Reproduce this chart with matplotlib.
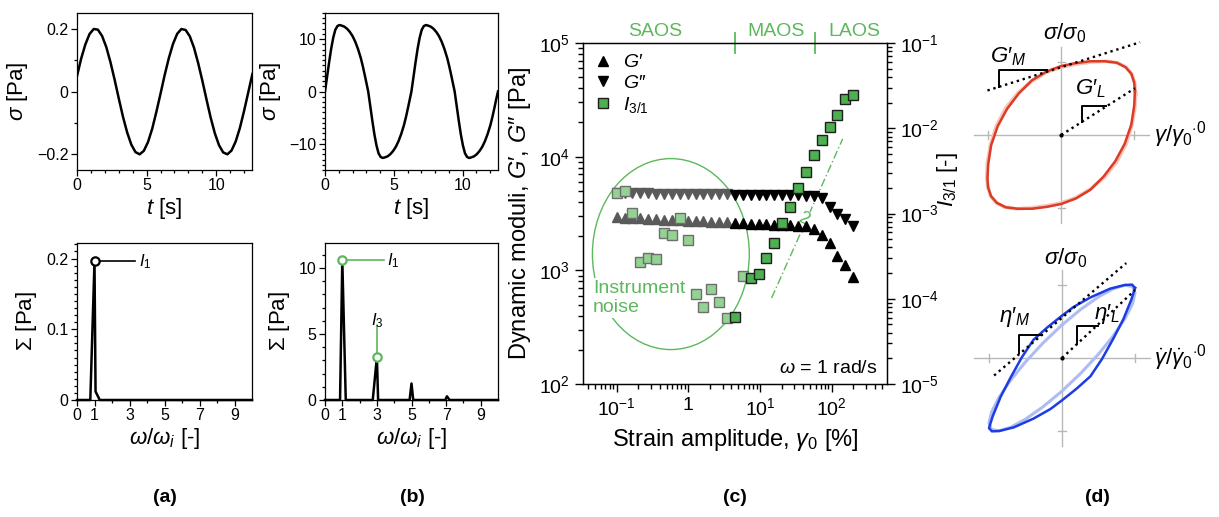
import numpy as np
import matplotlib
matplotlib.use("Agg")
import matplotlib.pyplot as plt
from matplotlib.patches import Ellipse
from matplotlib.ticker import MultipleLocator, FixedLocator, FuncFormatter, LogLocator, NullFormatter

plt.rcParams.update({
    "font.family": ["Liberation Sans", "DejaVu Sans"],
    "mathtext.fontset": "custom",
    "mathtext.rm": "Liberation Sans",
    "mathtext.it": "Liberation Sans:italic",
    "mathtext.bf": "Liberation Sans:bold",
    "axes.linewidth": 0.9,
})

# ---- (a) linear response: stress signal and its spectrum ----
T_A = [0.0, 0.3, 0.6, 0.9, 1.2, 1.5, 1.8, 2.1, 2.4, 2.7, 3.0, 3.3, 3.6, 3.9, 4.2,
       4.5, 4.8, 5.1, 5.4, 5.7, 6.0, 6.3, 6.6, 6.9, 7.2, 7.5, 7.8, 8.1, 8.4, 8.7,
       9.0, 9.3, 9.6, 9.9, 10.2, 10.5, 10.8, 11.1, 11.4, 11.7, 12.0, 12.3, 12.6]
SIG_A = [0.049, 0.105, 0.150, 0.183, 0.199, 0.197, 0.177, 0.142, 0.094, 0.038,
         -0.022, -0.080, -0.130, -0.169, -0.193, -0.200, -0.189, -0.161, -0.119, -0.065,
         -0.007, 0.053, 0.107, 0.152, 0.184, 0.199, 0.196, 0.176, 0.140, 0.091,
         0.035, -0.025, -0.083, -0.133, -0.171, -0.194, -0.200, -0.188, -0.159, -0.116,
         -0.062, -0.003, 0.056]
FREQ_A = [0, 0.76, 1.0, 1.06, 1.3, 10]
AMP_A = [0, 0, 0.196, 0.012, 0, 0]
I1_A = 0.196

# ---- (b) nonlinear response ----
T_B = [0.0, 0.15, 0.3, 0.45, 0.6, 0.75, 0.9, 1.05, 1.2, 1.4, 1.6, 1.8, 2.0, 2.2, 2.4, 2.6, 2.75, 2.9, 3.02,
       3.14, 3.29, 3.44, 3.59, 3.74, 3.89, 4.04, 4.19, 4.34, 4.54, 4.74, 4.94, 5.14, 5.34, 5.54, 5.74, 5.89, 6.04, 6.16,
       6.28, 6.43, 6.58, 6.73, 6.88, 7.03, 7.18, 7.33, 7.48, 7.68, 7.88, 8.08, 8.28, 8.48, 8.68, 8.88, 9.03, 9.18, 9.30,
       9.42, 9.57, 9.72, 9.87, 10.02, 10.17, 10.32, 10.47, 10.62, 10.82, 11.02, 11.22, 11.42, 11.62, 11.82, 12.02, 12.17,
       12.32, 12.44, 12.57]
SIG_B = [0.0, 2.8, 5.6, 8.2, 10.3, 11.8, 12.5, 12.7, 12.6, 12.4, 12.0, 11.4, 10.6, 9.5, 8.1, 6.4, 4.8, 3.0, 1.5,
         0.0, -2.8, -5.6, -8.2, -10.3, -11.8, -12.5, -12.7, -12.6, -12.4, -12.0, -11.4, -10.6, -9.5, -8.1, -6.4, -4.8, -3.0, -1.5,
         0.0, 2.8, 5.6, 8.2, 10.3, 11.8, 12.5, 12.7, 12.6, 12.4, 12.0, 11.4, 10.6, 9.5, 8.1, 6.4, 4.8, 3.0, 1.5,
         0.0, -2.8, -5.6, -8.2, -10.3, -11.8, -12.5, -12.7, -12.6, -12.4, -12.0, -11.4, -10.6, -9.5, -8.1, -6.4, -4.8,
         -3.0, -1.5, 0.0]
FREQ_B = [0, 0.87, 1.0, 1.2, 2.76, 3.0, 3.07, 4.89, 5.0, 5.1, 6.95, 7.05, 7.2, 10]
AMP_B = [0, 0, 10.6, 0, 0, 3.25, 0, 0, 1.25, 0, 0, 0.28, 0, 0]
I1_B, I3_B = 10.6, 3.25

# ---- (c) strain amplitude sweep ----
GAMMA = [0.100, 0.129, 0.166, 0.214, 0.275, 0.355, 0.457, 0.589, 0.759, 0.977, 1.26,
         1.62, 2.09, 2.69, 3.47, 4.47, 5.75, 7.41, 9.55, 12.3, 15.8, 20.4, 26.3, 33.9,
         43.7, 56.2, 72.4, 93.3, 120, 155, 200]
G_STORAGE = [2920, 2900, 2880, 2860, 2840, 2820, 2800, 2780, 2760, 2740, 2720, 2700,
             2680, 2660, 2640, 2620, 2600, 2580, 2560, 2540, 2520, 2500, 2480, 2470,
             2450, 2310, 2040, 1740, 1340, 1110, 870]
G_LOSS = [4790, 4780, 4770, 4760, 4750, 4740, 4730, 4720, 4710, 4700, 4690, 4680,
          4670, 4660, 4650, 4640, 4630, 4620, 4610, 4600, 4590, 4580, 4570, 4560,
          4540, 4500, 4330, 3640, 3120, 2820, 2470]
I31 = [1.74e-3, 1.84e-3, 1.01e-3, 2.70e-4, 3.01e-4, 2.93e-4, 5.90e-4, 5.60e-4, 8.85e-4,
       4.88e-4, 1.14e-4, 8.0e-5, 1.30e-4, 9.16e-5, 5.95e-5, 6.11e-5, 1.85e-4, 1.75e-4,
       1.95e-4, 3.01e-4, 4.51e-4, 7.74e-4, 1.19e-3, 1.99e-3, 3.07e-3, 4.85e-3, 7.28e-3,
       1.04e-2, 1.43e-2, 2.20e-2, 2.46e-2]
IN_NOISE = [True] * 15 + [False, True] + [False] * 14
REGION_EDGES = [4.5, 58]
REGION_NAMES = ["SAOS", "MAOS", "LAOS"]
REGION_AT = [0.35, 16.5, 210]
SLOPE_GAMMA = [14.5, 142]
SLOPE_I = [1.02e-4, 7.5e-3]

# ---- (d) Lissajous curves (normalised) ----
ELASTIC_X = [1.01, 1.00, 0.96, 0.88, 0.76, 0.60, 0.40, 0.20, 0.00, -0.20, -0.40, -0.58, -0.74,
             -0.87, -0.96, -1.00, -1.01, -1.00, -0.96, -0.88, -0.76, -0.60, -0.40, -0.20, 0.00,
             0.20, 0.40, 0.58, 0.74, 0.87, 0.96, 1.00, 1.01]
ELASTIC_Y = [0.60, 0.72, 0.84, 0.93, 0.99, 1.01, 1.01, 0.985, 0.945, 0.87, 0.75, 0.57, 0.36,
             0.12, -0.14, -0.40, -0.60, -0.72, -0.84, -0.93, -0.99, -1.01, -1.01, -0.985, -0.945,
             -0.87, -0.75, -0.57, -0.36, -0.12, 0.14, 0.40, 0.60]
ELASTIC1_X = [1.02, 1.01, 0.97, 0.89, 0.77, 0.61, 0.41, 0.20, 0.00, -0.20, -0.40, -0.59, -0.76,
              -0.89, -0.97, -1.01, -1.02, -1.01, -0.97, -0.89, -0.77, -0.61, -0.41, -0.20, 0.00,
              0.20, 0.40, 0.59, 0.76, 0.89, 0.97, 1.01, 1.02]
ELASTIC1_Y = [0.56, 0.70, 0.83, 0.93, 0.99, 1.01, 1.00, 0.97, 0.93, 0.86, 0.74, 0.58, 0.37,
              0.12, -0.14, -0.38, -0.56, -0.70, -0.83, -0.93, -0.99, -1.01, -1.00, -0.97, -0.93,
              -0.86, -0.74, -0.58, -0.37, -0.12, 0.14, 0.38, 0.56]
VISC_X = [1.00, 0.96, 0.86, 0.66, 0.39, 0.16, 0.00, -0.20, -0.39, -0.55, -0.70, -0.84, -0.95,
          -1.00, -0.96, -0.86, -0.66, -0.39, -0.16, 0.00, 0.20, 0.39, 0.55, 0.70, 0.84, 0.95, 1.00]
VISC_Y = [0.96, 1.005, 1.00, 0.95, 0.83, 0.70, 0.58, 0.42, 0.25, 0.01, -0.26, -0.53, -0.80,
          -0.96, -1.005, -1.00, -0.95, -0.83, -0.70, -0.58, -0.42, -0.25, -0.01, 0.26, 0.53, 0.80, 0.96]
VISC1_X = [0, 0.259, 0.5, 0.707, 0.866, 0.966, 1, 0.966, 0.866, 0.707, 0.5, 0.259, 0,
           -0.259, -0.5, -0.707, -0.866, -0.966, -1, -0.966, -0.866, -0.707, -0.5, -0.259, 0]
VISC1_Y = [0.453, 0.668, 0.838, 0.951, 0.999, 0.978, 0.892, 0.744, 0.545, 0.309, 0.053, -0.207,
           -0.453, -0.668, -0.838, -0.951, -0.999, -0.978, -0.892, -0.744, -0.545, -0.309,
           -0.053, 0.207, 0.453]

GREEN = "#5cb85c"
SQ_DARK = "#4daf4f"
SQ_LIGHT = "#94d294"
GRAY_TRI = "#5a5a5a"
RED, RED_L = "#de3b26", "#f6c4ba"
BLUE, BLUE_L = "#1c3ce6", "#aebcf3"

W, H = 1219, 517
fig = plt.figure(figsize=(W / 100, H / 100), dpi=100)


def add_px(x0, y0, x1, y1):
    return fig.add_axes([x0 / W, 1 - y1 / H, (x1 - x0) / W, (y1 - y0) / H])


num = FuncFormatter(lambda v, p: f"{v:g}".replace("-", "\u2212"))


def style_small(ax):
    ax.tick_params(which="both", direction="out", labelsize=11.5, width=0.9, pad=2)
    ax.tick_params(which="major", length=4)
    ax.tick_params(which="minor", length=2)


def wave_panel(ax, t, s, lim, major, minor):
    ax.plot(t, s, color="k", lw=1.8)
    ax.set_xlim(0, 12.57)
    ax.set_ylim(-lim, lim)
    ax.xaxis.set_major_locator(MultipleLocator(5))
    ax.xaxis.set_minor_locator(MultipleLocator(1))
    ax.yaxis.set_major_locator(MultipleLocator(major))
    ax.yaxis.set_minor_locator(MultipleLocator(minor))
    ax.yaxis.set_major_formatter(num)
    ax.set_xlabel("$t$ [s]", fontsize=16, labelpad=2)
    ax.set_ylabel(r"$\sigma$ [Pa]", fontsize=16, labelpad=5)
    style_small(ax)


def spec_panel(ax, f, a, ymax, major, minor):
    ax.plot(f, a, color="k", lw=1.8, clip_on=False)
    ax.set_xlim(0, 10)
    ax.set_ylim(0, ymax)
    ax.xaxis.set_major_locator(FixedLocator([0, 1, 3, 5, 7, 9]))
    ax.xaxis.set_minor_locator(FixedLocator([2, 4, 6, 8]))
    ax.yaxis.set_major_locator(MultipleLocator(major))
    ax.yaxis.set_minor_locator(MultipleLocator(minor))
    ax.yaxis.set_major_formatter(num)
    ax.set_xlabel(r"$\omega/\omega_i$ [-]", fontsize=16, labelpad=2)
    ax.set_ylabel(r"$\Sigma$ [Pa]", fontsize=16, labelpad=5)
    style_small(ax)


# (a)
ax = add_px(77, 13, 252, 170)
wave_panel(ax, T_A, SIG_A, 0.25, 0.2, 0.1)
ax = add_px(77, 243, 252, 400)
spec_panel(ax, FREQ_A, AMP_A, 0.222, 0.1, 0.01)
ax.plot([1, 3.3], [I1_A, I1_A], color="k", lw=1.2)
ax.plot([1], [I1_A], "o", ms=6, mfc="white", mec="k", mew=1.6)
ax.text(3.55, I1_A, "$I_1$", fontsize=12, va="center")

# (b)
ax = add_px(325, 13, 498, 170)
wave_panel(ax, T_B, SIG_B, 15, 10, 1)
ax = add_px(325, 243, 498, 400)
spec_panel(ax, FREQ_B, AMP_B, 11.9, 5, 1)
ax.plot([1, 3.4], [I1_B, I1_B], color=GREEN, lw=1.2)
ax.plot([3, 3], [I3_B, 5.6], color=GREEN, lw=1.2)
ax.plot([1, 3], [I1_B, I3_B], "o", ms=6, mfc="white", mec=GREEN, mew=1.6, ls="none")
ax.text(3.6, I1_B, "$I_1$", fontsize=12, va="center")
ax.text(3.0, 6.0, "$I_3$", fontsize=12, va="center", ha="center")

# (c)
g = np.array(GAMMA)
gp = np.array(G_STORAGE)
gpp = np.array(G_LOSS)
i31 = np.array(I31)
noise = np.array(IN_NOISE)
saos = g < 4

ax = add_px(583, 43, 887, 384)
axr = ax.twinx()
ax.set_xscale("log")
ax.set_yscale("log")
axr.set_yscale("log")

ax.plot(g[saos], gp[saos], "^", color=GRAY_TRI, ms=6.5, ls="none", zorder=3)
ax.plot(g[saos], gpp[saos], "v", color=GRAY_TRI, ms=6.5, ls="none", zorder=3)
h_gp, = ax.plot(g[~saos], gp[~saos], "^", color="k", ms=6.5, ls="none", zorder=3)
h_gpp, = ax.plot(g[~saos], gpp[~saos], "v", color="k", ms=6.5, ls="none", zorder=3)

axr.plot(g[noise], i31[noise], "s", mfc=SQ_LIGHT, mec="#6e6e6e", ms=7.5, mew=1.0, ls="none", zorder=3)
h_i, = axr.plot(g[~noise], i31[~noise], "s", mfc=SQ_DARK, mec="#1e1e1e", ms=7.5, mew=1.0, ls="none", zorder=3)

ax.plot(SLOPE_GAMMA, SLOPE_I, color=GREEN, lw=1.0, ls=(0, (6, 2, 1, 2)), transform=axr.transData, zorder=2)
ax.text(40, 8.6e-4, "2", color=GREEN, fontsize=13, ha="center", va="center", rotation=-25,
        transform=axr.transData, zorder=2.5,
        bbox=dict(boxstyle="square,pad=0.05", fc="white", ec="none"))

ax.add_patch(Ellipse((0.289, 0.381), 0.516, 0.56, transform=ax.transAxes,
                     fill=False, ec=GREEN, lw=1.0, zorder=1))
ax.text(0.033, 0.251, "Instrument\nnoise", transform=ax.transAxes, color=GREEN,
        fontsize=14, ha="left", va="center", linespacing=1.15, zorder=2,
        bbox=dict(boxstyle="square,pad=0.1", fc="white", ec="none"))

ax.set_xlim(0.034, 590)
ax.set_ylim(1e2, 1e5)
axr.set_ylim(1e-5, 1e-1)

xt = ax.get_xaxis_transform()
for e in REGION_EDGES:
    ax.plot([e, e], [0.97, 1.03], color=GREEN, lw=1.3, transform=xt, clip_on=False)
for name, x in zip(REGION_NAMES, REGION_AT):
    ax.text(x, 1.035, name, color=GREEN, fontsize=14, ha="center", va="center", transform=xt)

ax.text(0.97, 0.046, r"$\omega$ = 1 rad/s", transform=ax.transAxes, fontsize=14,
        ha="right", va="center")

ax.xaxis.set_major_locator(FixedLocator([0.1, 1, 10, 100]))
ax.set_xticklabels(["$10^{-1}$", "1", "$10^{1}$", "$10^{2}$"])
ax.xaxis.set_minor_locator(LogLocator(base=10, subs=np.arange(2, 10) * 1.0, numticks=20))
ax.xaxis.set_minor_formatter(NullFormatter())
for a in (ax, axr):
    a.tick_params(which="both", direction="out", labelsize=14, width=1.0)
    a.tick_params(which="major", length=6)
    a.tick_params(which="minor", length=3.5)
ax.tick_params(axis="y", right=False)
ax.set_xlabel(r"Strain amplitude, $\gamma_{\mathit{0}}$ [%]", fontsize=17, labelpad=6)
ax.set_ylabel(r"Dynamic moduli, $G\prime$, $G\prime\prime$ [Pa]", fontsize=17, labelpad=4)
axr.set_ylabel("$I_{3/1}$ [-]", fontsize=16, rotation=90, va="center", ha="center")
axr.yaxis.set_label_coords(1.2, 0.6)

axr.legend([h_gp, h_gpp, h_i], [r"$G\prime$", r"$G\prime\prime$", "$I_{3/1}$"], loc="upper left",
           frameon=False, fontsize=14, handlelength=1.0, handletextpad=0.5,
           labelspacing=0.15, borderaxespad=0.15)


# (d)
def loop_frame(ax, ylim):
    ax.set_xlim(-1.4, 2.1)
    ax.set_ylim(*ylim)
    ax.axis("off")
    ax.plot([-1.2, 1.2], [0, 0], color="#b8b8b8", lw=1.0, zorder=1)
    ax.plot([0, 0], [-1.2, 1.2], color="#b8b8b8", lw=1.0, zorder=1)
    for v in (-1, 1):
        ax.plot([v, v], [-0.05, 0.05], color="#b8b8b8", lw=1.0, zorder=1)
        ax.plot([-0.05, 0.05], [v, v], color="#b8b8b8", lw=1.0, zorder=1)
    ax.plot([0], [0], "o", color="k", ms=2, zorder=4)


DOT = dict(color="k", lw=1.7, ls=(0, (1, 1.6)), zorder=4)
STEP = dict(color="k", lw=1.4, zorder=4)

ax = add_px(959, 18.2, 1214.5, 233.55)
loop_frame(ax, (-1.35, 1.6))
ax.plot(ELASTIC1_X, ELASTIC1_Y, color=RED_L, lw=2.6, zorder=2)
ax.plot(ELASTIC_X, ELASTIC_Y, color=RED, lw=1.8, zorder=3)
ax.plot([-1.01, 1.08], [0.61, 1.27], **DOT)
ax.plot([-0.855, -0.855, -0.195], [0.66, 0.886, 0.886], **STEP)
ax.plot([0, 1.01], [0, 0.64], **DOT)
ax.plot([0.28, 0.28, 0.62], [0.18, 0.395, 0.395], **STEP)
ax.text(0.05, 1.39, r"$\sigma/\sigma_0$", fontsize=16, ha="center", va="center")
ax.text(-0.73, 1.07, r"$G\prime_{M}$", fontsize=16, ha="center", va="center")
ax.text(0.40, 0.63, r"$G\prime_{L}$", fontsize=16, ha="center", va="center")
ax.text(1.27, 0.0, r"$\gamma/\gamma_0{}^{\cdot 0}$", fontsize=16, ha="left", va="center")

ax = add_px(959.8, 244.85, 1215.3, 456.55)
loop_frame(ax, (-1.35, 1.55))
ax.plot(VISC1_X, VISC1_Y, color=BLUE_L, lw=2.2, zorder=2)
ax.plot(VISC_X, VISC_Y, color=BLUE, lw=1.8, zorder=3)
ax.plot([-0.93, 0.88], [-0.24, 1.30], **DOT)
ax.plot([-0.59, -0.59, -0.27], [0.07, 0.32, 0.32], **STEP)
ax.plot([0, 1.0], [0, 0.93], **DOT)
ax.plot([0.2, 0.2, 0.5], [0.19, 0.445, 0.445], **STEP)
ax.text(0.05, 1.37, r"$\sigma/\sigma_0$", fontsize=16, ha="center", va="center")
ax.text(-0.65, 0.56, r"$\eta\prime_{M}$", fontsize=16, ha="center", va="center")
ax.text(0.62, 0.60, r"$\eta\prime_{L}$", fontsize=16, ha="center", va="center")
ax.text(1.26, 0.0, r"$\dot{\gamma}/\dot{\gamma}_0{}^{\cdot 0}$", fontsize=16, ha="left", va="center")

for lab, x in (("(a)", 165), ("(b)", 412), ("(c)", 735), ("(d)", 1097)):
    fig.text(x / W, 1 - 497 / H, lab, fontsize=14, fontweight="bold", ha="center", va="center")

fig.savefig("out.png", dpi=100)
